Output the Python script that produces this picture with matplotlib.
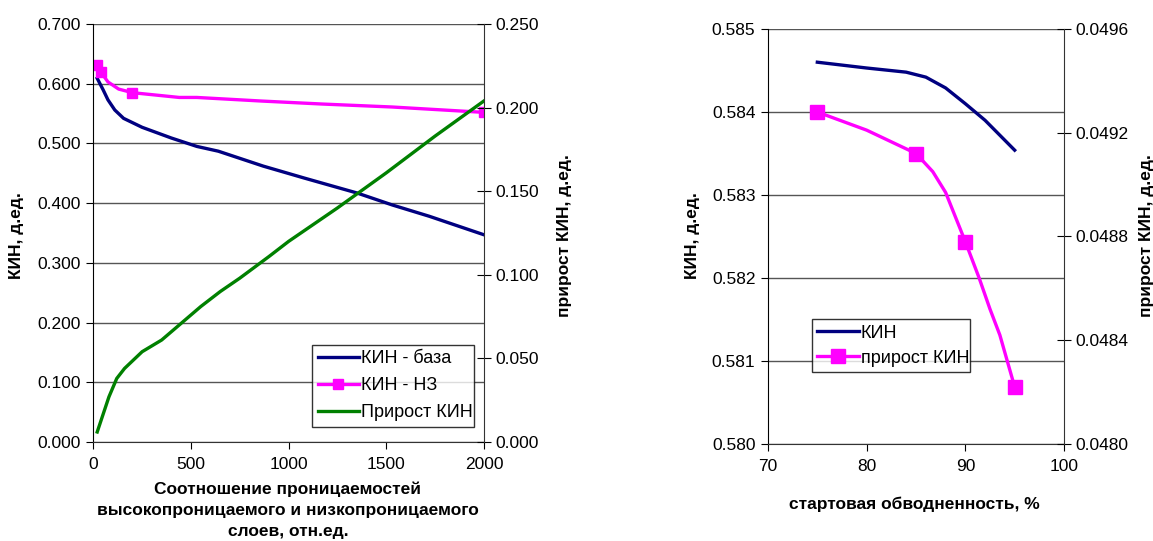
import matplotlib
matplotlib.use("Agg")
import matplotlib.pyplot as plt
from matplotlib.ticker import FormatStrFormatter, MultipleLocator

plt.rcParams['font.family'] = ['Liberation Sans', 'DejaVu Sans']

# ---------- Left chart data ----------
ratio_base = [20, 50, 75, 110, 155, 250, 400, 530, 640, 870, 1080, 1350, 1530, 1720, 2000]
kin_base = [0.609, 0.590, 0.573, 0.556, 0.542, 0.527, 0.509, 0.495, 0.487, 0.462,
            0.442, 0.417, 0.397, 0.378, 0.347]

ratio_nz = [18, 40, 75, 130, 200, 440, 530, 860, 1170, 1530, 2000]
kin_nz = [0.631, 0.619, 0.603, 0.591, 0.585, 0.577, 0.577, 0.571, 0.566, 0.561, 0.552]
nz_marker_idx = [0, 1, 4, 10]

ratio_gain = [20, 40, 60, 80, 120, 160, 250, 350, 450, 550, 650, 750, 900, 1000,
              1250, 1500, 1750, 2000]
kin_gain = [0.006, 0.013, 0.020, 0.027, 0.038, 0.044, 0.054, 0.061, 0.071, 0.081,
            0.090, 0.098, 0.111, 0.120, 0.140, 0.161, 0.183, 0.204]

# ---------- Right chart data ----------
water_cut_kin = [75, 80, 84, 86, 88, 90, 92, 95]
kin_wc = [0.58460, 0.58453, 0.58448, 0.58442, 0.58429, 0.58410, 0.58390, 0.58354]

water_cut_gain = [75, 80, 85, 86.7, 88, 90, 91.4, 92.5, 93.5, 95]
gain_wc = [0.04928, 0.04921, 0.04912, 0.04905, 0.04897, 0.04878, 0.04864,
           0.04852, 0.04842, 0.04822]
gain_marker_idx = [0, 2, 5, 9]

NAVY = '#000080'
MAG = '#FF00FF'
GREEN = '#008000'
GRID = '#555555'
TICK_FS = 12.5
LAB_FS = 12.5
LEG_FS = 13

W, H = 1153, 541
fig = plt.figure(figsize=(W / 100, H / 100), dpi=100)


def style_axes(ax, ax2):
    for a in (ax, ax2):
        a.spines['top'].set_visible(False)
        a.set_facecolor('none')
    ax.spines['right'].set_visible(False)
    ax2.spines['left'].set_visible(False)
    ax2.spines['bottom'].set_visible(False)
    ax2.spines['right'].set_color('#333333')
    ax.spines['left'].set_color('#000000')
    ax.spines['bottom'].set_color('#333333')
    ax.tick_params(axis='both', direction='out', length=5, labelsize=TICK_FS, pad=4)
    ax.tick_params(axis='x', pad=6)
    ax2.tick_params(axis='y', direction='inout', length=10, labelsize=TICK_FS, pad=3)
    ax.grid(axis='y', color=GRID, linewidth=1.0)
    ax.set_axisbelow(True)


# ---------- Left chart ----------
axL = fig.add_axes([93.3 / W, (H - 442) / H, (484 - 93.3) / W, 418 / H])
axL2 = axL.twinx()
style_axes(axL, axL2)

l1, = axL.plot(ratio_base, kin_base, color=NAVY, lw=2.4, label='КИН - база')
l2, = axL.plot(ratio_nz, kin_nz, color=MAG, lw=2.4, marker='s', markersize=7,
               markevery=nz_marker_idx, label='КИН - НЗ')
l3, = axL2.plot(ratio_gain, kin_gain, color=GREEN, lw=2.4, label='Прирост КИН')

axL.set_xlim(0, 2000)
axL.set_ylim(0, 0.7)
axL.xaxis.set_major_locator(MultipleLocator(500))
axL.yaxis.set_major_locator(MultipleLocator(0.1))
axL.yaxis.set_major_formatter(FormatStrFormatter('%.3f'))
axL2.set_ylim(0, 0.25)
axL2.yaxis.set_major_locator(MultipleLocator(0.05))
axL2.yaxis.set_major_formatter(FormatStrFormatter('%.3f'))

legL = axL2.legend(handles=[l1, l2, l3], loc='lower left',
                   bbox_to_anchor=(0.56, 0.037, 0.414, 0.209), mode='expand',
                   fontsize=LEG_FS, frameon=True, fancybox=False, edgecolor='#000000',
                   borderpad=0.3, labelspacing=0.55, handlelength=2.3,
                   handletextpad=0.1, borderaxespad=0)
legL.get_frame().set_linewidth(1.0)

fig.text(17 / W, 1 - 236 / H, 'КИН, д.ед.', rotation=90, ha='center', va='center',
         fontsize=LAB_FS, fontweight='bold')
fig.text(565 / W, 1 - 236 / H, 'прирост КИН, д.ед.', rotation=90, ha='center',
         va='center', fontsize=LAB_FS, fontweight='bold')
fig.text(288 / W, 1 - 510 / H,
         'Соотношение проницаемостей\nвысокопроницаемого и низкопроницаемого\nслоев, отн.ед.',
         ha='center', va='center', fontsize=LAB_FS, fontweight='bold',
         linespacing=1.5)

# ---------- Right chart ----------
axR = fig.add_axes([768 / W, (H - 444) / H, 296 / W, 415 / H])
axR2 = axR.twinx()
style_axes(axR, axR2)

r1, = axR.plot(water_cut_kin, kin_wc, color=NAVY, lw=2.4, label='КИН')
r2, = axR2.plot(water_cut_gain, gain_wc, color=MAG, lw=2.4, marker='s', markersize=9.5,
                markevery=gain_marker_idx, label='прирост КИН')

axR.set_xlim(70, 100)
axR.set_ylim(0.580, 0.585)
axR.xaxis.set_major_locator(MultipleLocator(10))
axR.yaxis.set_major_locator(MultipleLocator(0.001))
axR.yaxis.set_major_formatter(FormatStrFormatter('%.3f'))
axR2.set_ylim(0.0480, 0.0496)
axR2.yaxis.set_major_locator(MultipleLocator(0.0004))
axR2.yaxis.set_major_formatter(FormatStrFormatter('%.4f'))

legR = axR2.legend(handles=[r1, r2], loc='lower left',
                   bbox_to_anchor=(0.148, 0.173, 0.534, 0.130), mode='expand',
                   fontsize=LEG_FS, frameon=True, fancybox=False, edgecolor='#000000',
                   borderpad=0.3, labelspacing=0.45, handlelength=2.3,
                   handletextpad=0.1, borderaxespad=0)
legR.get_frame().set_linewidth(1.0)

fig.text(693 / W, 1 - 236 / H, 'КИН, д.ед.', rotation=90, ha='center', va='center',
         fontsize=LAB_FS, fontweight='bold')
fig.text(1146 / W, 1 - 236 / H, 'прирост КИН, д.ед.', rotation=90, ha='center',
         va='center', fontsize=LAB_FS, fontweight='bold')
fig.text(914 / W, 1 - 504 / H, 'стартовая обводненность, %', ha='center', va='center',
         fontsize=LAB_FS, fontweight='bold')

fig.savefig('out.png', dpi=100)
